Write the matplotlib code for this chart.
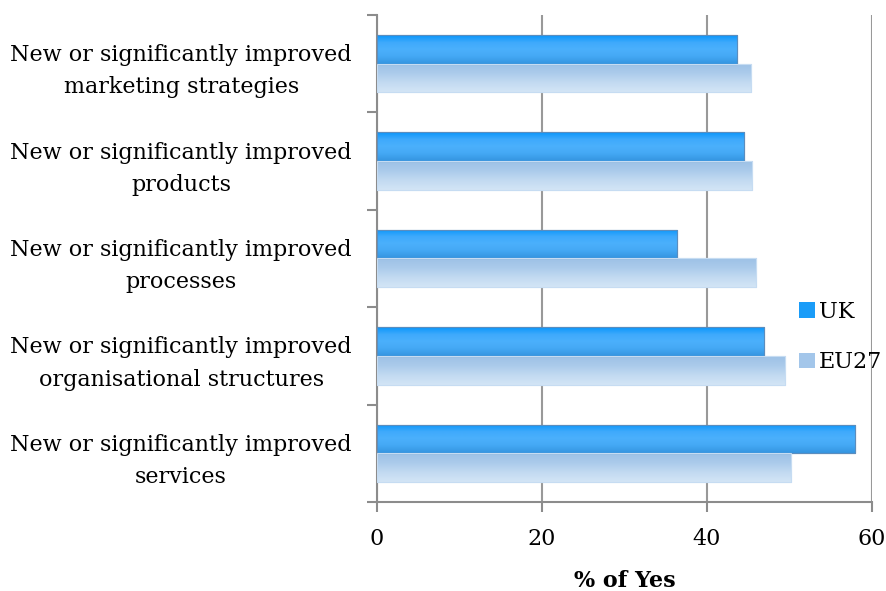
import matplotlib
matplotlib.use("Agg")
import matplotlib.pyplot as plt
import numpy as np
from matplotlib.patches import Patch
from matplotlib.colors import LinearSegmentedColormap

categories = [
    "New or significantly improved\nmarketing strategies",
    "New or significantly improved\nproducts",
    "New or significantly improved\nprocesses",
    "New or significantly improved\norganisational structures",
    "New or significantly improved\nservices",
]
uk = [43.6, 44.5, 36.4, 46.9, 58.0]
eu27 = [45.3, 45.5, 46.0, 49.4, 50.2]
series_names = ["UK", "EU27"]
xticks = [0, 20, 40, 60]

plt.rcParams['font.family'] = ['DejaVu Serif']
FS = 16

fig = plt.figure(figsize=(8.87, 5.91), dpi=100)
ax = fig.add_axes([377/887, 1-502/591, (872-377)/887, (502-15)/591])

n = len(categories)
y = np.arange(n)
h = 0.295
uk_bars = ax.barh(y - h/2, uk, height=h, color="#2AA2FA", edgecolor="#5B8DBE", linewidth=0.8, zorder=3)
eu_bars = ax.barh(y + h/2, eu27, height=h, color="#A8CAEC", edgecolor="#C6DCF2", linewidth=0.8, zorder=3)

uk_cmap = LinearSegmentedColormap.from_list("uk", ["#0A96FB", "#3FAAFC", "#4BB0FC", "#44A8F4", "#3595E0"])
eu_cmap = LinearSegmentedColormap.from_list("eu", ["#9DC1E6", "#ABCBEB", "#C2DAF1", "#D3E5F6"])
grad = np.linspace(0, 1, 64).reshape(-1, 1)
for bars, cmap in ((uk_bars, uk_cmap), (eu_bars, eu_cmap)):
    for b in bars:
        x0, y0 = b.get_x(), b.get_y()
        w, hh = b.get_width(), b.get_height()
        im = ax.imshow(grad, cmap=cmap, aspect="auto", extent=(x0, x0 + w, y0 + hh, y0),
                       zorder=3.5, interpolation="bilinear")
        im.set_clip_path(b)
        ax.add_patch(plt.Rectangle((x0, y0), w, hh, fill=False, edgecolor=b.get_edgecolor(),
                                   linewidth=0.8, zorder=4))

ax.set_xlim(0, 60)
ax.set_ylim(n - 0.5, -0.5)
ax.set_xticks(xticks)
ax.set_xticklabels([str(t) for t in xticks], fontsize=FS)
ax.set_yticks(np.arange(n + 1) - 0.5)
ax.set_yticklabels([])
ax.set_yticks(y, minor=True)
ax.set_yticklabels(categories, minor=True, fontsize=FS, multialignment="center", linespacing=1.6)
ax.tick_params(axis="y", which="minor", length=0, pad=18)
ax.tick_params(axis="y", which="major", length=7, width=1.5, color="#8c8c8c")
ax.tick_params(axis="x", length=7, width=1.5, color="#8c8c8c", pad=12)

ax.grid(axis="x", color="#999999", linewidth=1.5, zorder=0)
ax.spines["top"].set_visible(False)
ax.spines["right"].set_visible(False)
for s in ("left", "bottom"):
    ax.spines[s].set_color("#8c8c8c")
    ax.spines[s].set_linewidth(1.5)

ax.set_xlabel("% of Yes", fontsize=FS, fontweight="bold", labelpad=14)

handles = [Patch(facecolor="#1A9CF8", edgecolor="none"), Patch(facecolor="#A3C6EA", edgecolor="none")]
leg = fig.legend(handles, series_names, loc="center left", bbox_to_anchor=(799/887, 1-337/591),
                 frameon=False, fontsize=FS, handlelength=0.7, handleheight=0.7,
                 handletextpad=0.2, labelspacing=1.3, borderpad=0, borderaxespad=0)

fig.savefig("out.png", dpi=100)
